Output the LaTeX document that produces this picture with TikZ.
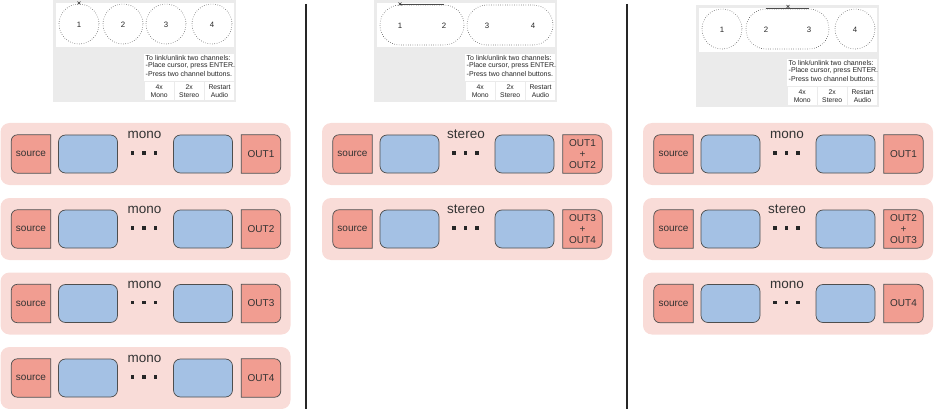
\documentclass[tikz,border=0pt]{standalone}
\usepackage{fontspec}
\setmainfont{Liberation Sans}
\usetikzlibrary{shapes.misc}

\definecolor{stripbg}{HTML}{F9DCD8}
\definecolor{salmon}{HTML}{F19D91}
\definecolor{bluebox}{HTML}{A4C1E4}
\definecolor{edge}{HTML}{4E4E4E}
\definecolor{panelgrey}{HTML}{EBEBEB}
\definecolor{textdark}{HTML}{333333}

\pgfdeclarelayer{back}
\pgfdeclarelayer{mid}
\pgfsetlayers{back,mid,main}

\tikzset{
  strip/.style={rectangle, rounded corners=9pt, fill=stripbg, draw=none,
    minimum width=290pt, minimum height=62pt, inner sep=0pt},
  endbox/.style={rectangle, minimum width=39pt, minimum height=38pt, inner sep=0pt,
    align=center, text=textdark, font=\fontsize{10}{11}\selectfont},
  endfill/.style={fill=salmon, draw=edge, line width=0.7pt},
  stage/.style={rectangle, rounded corners=7pt, fill=bluebox, draw=edge, line width=0.7pt,
    minimum width=59pt, minimum height=38pt, inner sep=0pt},
  lbl/.style={anchor=base, inner sep=0pt, text=textdark, font=\fontsize{13.5}{15}\selectfont},
  dot/.style={rectangle, fill=black!85, minimum size=3.2pt, inner sep=0pt},
  panelbg/.style={rectangle, fill=panelgrey, minimum width=183pt, minimum height=102pt, inner sep=0pt},
  whitebg/.style={rectangle, fill=white, inner sep=0pt},
  help/.style={anchor=west, inner sep=0pt, text=black!85, font=\fontsize{7}{8}\selectfont},
  btn/.style={rectangle, fill=white, minimum width=28.5pt, minimum height=18pt, inner sep=0pt,
    align=center, text=black!85, font=\fontsize{6.8}{8}\selectfont},
  chan/.style={fill=white, draw=black!75, line width=0.6pt, dash pattern=on 0.5pt off 1.8pt,
    inner sep=0pt},
  ring/.style={chan, circle, minimum size=40pt},
  pill/.style={chan, rectangle, rounded corners=19.9pt, minimum height=40pt},
  num/.style={inner sep=0pt, text=black!85, font=\fontsize{7.8}{9}\selectfont},
  cursor/.style={cross out, draw=black!80, line width=0.5pt, minimum size=2.6pt, inner sep=0pt},
  topline/.style={draw=black!70, line width=0.6pt},
  sep/.style={draw=black!85, line width=1.8pt}
}

% one processing chain: source, two stages, dots, output
\newcommand\chainrow[5]{%
\begin{scope}[shift={(#1,#2)}]
  \begin{pgfonlayer}{back}
    \node[strip] (#3) at (145,31) {};
  \end{pgfonlayer}
  \node[endbox] (#3src) at (30.5,31) {source};
  \node[stage] (#3a) at (87.5,31) {};
  \node[stage] (#3b) at (202.5,31) {};
  \node[endbox] (#3out) at (260.5,31) {#5};
  \node[lbl] (#3lab) at (144,15.5) {#4};
  \node[dot] (#3d1) at (132,30) {};
  \node[dot] (#3d2) at (143.5,30) {};
  \node[dot] (#3d3) at (155,30) {};
  \begin{pgfonlayer}{mid}
    \path[endfill] (#3src.south) [rounded corners=6pt] -- (#3src.south west) -- (#3src.north west)
      -- (#3src.north) [sharp corners] -- (#3src.north east) -- (#3src.south east) -- cycle;
    \path[endfill] (#3out.north) [rounded corners=6pt] -- (#3out.north east) -- (#3out.south east)
      -- (#3out.south) [sharp corners] -- (#3out.south west) -- (#3out.north west) -- cycle;
  \end{pgfonlayer}
\end{scope}}

% control panel with help text and buttons
\newcommand\ctrlpanel[3]{%
\begin{scope}[shift={(#1,#2)}]
  \node[panelbg] (#3) at (91.5,51) {};
  \node[whitebg, minimum width=178pt, minimum height=44pt] (#3view) at (92,25) {};
  \node[whitebg, minimum width=90pt, minimum height=27.5pt] (#3info) at (136,67.75) {};
  \node[help] (#3h1) at (92.5,57.5) {To link/unlink two channels:};
  \node[help] (#3h2) at (92.5,65.8) {-Place cursor, press ENTER.};
  \node[help] (#3h3) at (92.5,74) {-Press two channel buttons.};
  \node[btn] (#3b1) at (106.25,91) {4x\\Mono};
  \node[btn] (#3b2) at (136.25,91) {2x\\Stereo};
  \node[btn, minimum width=29pt] (#3b3) at (166.5,91) {Restart\\Audio};
\end{scope}}

\begin{document}
\begin{tikzpicture}[x=1pt, y=-1pt]
\useasboundingbox (0,0) rectangle (934,409);

% column separators
\coordinate (sepAtop) at (306,4);
\coordinate (sepAbot) at (306,409);
\coordinate (sepBtop) at (627,4);
\coordinate (sepBbot) at (627,409);
\draw[sep] (sepAtop) -- (sepAbot);
\draw[sep] (sepBtop) -- (sepBbot);

% ---- four mono channels ----
\ctrlpanel{53}{0}{pA}
\node[ring] (pAc1) at (79,24) {}; \node[num] (pAn1) at (79,25) {1};
\node[ring] (pAc2) at (123,24) {}; \node[num] (pAn2) at (123,25) {2};
\node[ring] (pAc3) at (166,24) {}; \node[num] (pAn3) at (166,25) {3};
\node[ring] (pAc4) at (212,24) {}; \node[num] (pAn4) at (212,25) {4};
\node[cursor] (pAx) at (79,3) {};

\chainrow{0.5}{123}{rA1}{mono}{OUT1}
\chainrow{0.5}{198}{rA2}{mono}{OUT2}
\chainrow{0.5}{272.5}{rA3}{mono}{OUT3}
\chainrow{0.5}{347}{rA4}{mono}{OUT4}

% ---- two stereo pairs ----
\ctrlpanel{374}{0}{pB}
\node[pill, minimum width=84pt] (pBs1) at (422,25) {};
\node[num] (pBn1) at (400,26) {1};
\node[num] (pBn2) at (444,26) {2};
\node[pill, minimum width=86pt] (pBs2) at (510,25) {};
\node[num] (pBn3) at (487,26) {3};
\node[num] (pBn4) at (533,26) {4};
\draw[topline] (pBs1.north -| pBn1) -- (pBs1.north -| pBn2);
\node[cursor] (pBx) at (400,4) {};

\chainrow{322}{123}{rB1}{stereo}{OUT1\\+\\OUT2}
\chainrow{322}{198}{rB2}{stereo}{OUT3\\+\\OUT4}

% ---- mono, stereo pair, mono ----
\ctrlpanel{696}{5}{pC}
\node[ring] (pCc1) at (722,29) {}; \node[num] (pCn1) at (722,30) {1};
\node[pill, minimum width=83pt] (pCs) at (787.5,29) {};
\node[num] (pCn2) at (766,30) {2};
\node[num] (pCn3) at (809,30) {3};
\node[ring] (pCc4) at (855,29) {}; \node[num] (pCn4) at (855,30) {4};
\draw[topline] (pCs.north -| pCn2) -- (pCs.north -| pCn3);
\node[cursor] (pCx) at (788,6.5) {};

\chainrow{643}{123}{rC1}{mono}{OUT1}
\chainrow{643}{198}{rC2}{stereo}{OUT2\\+\\OUT3}
\chainrow{643}{272.5}{rC3}{mono}{OUT4}

\end{tikzpicture}
\end{document}
